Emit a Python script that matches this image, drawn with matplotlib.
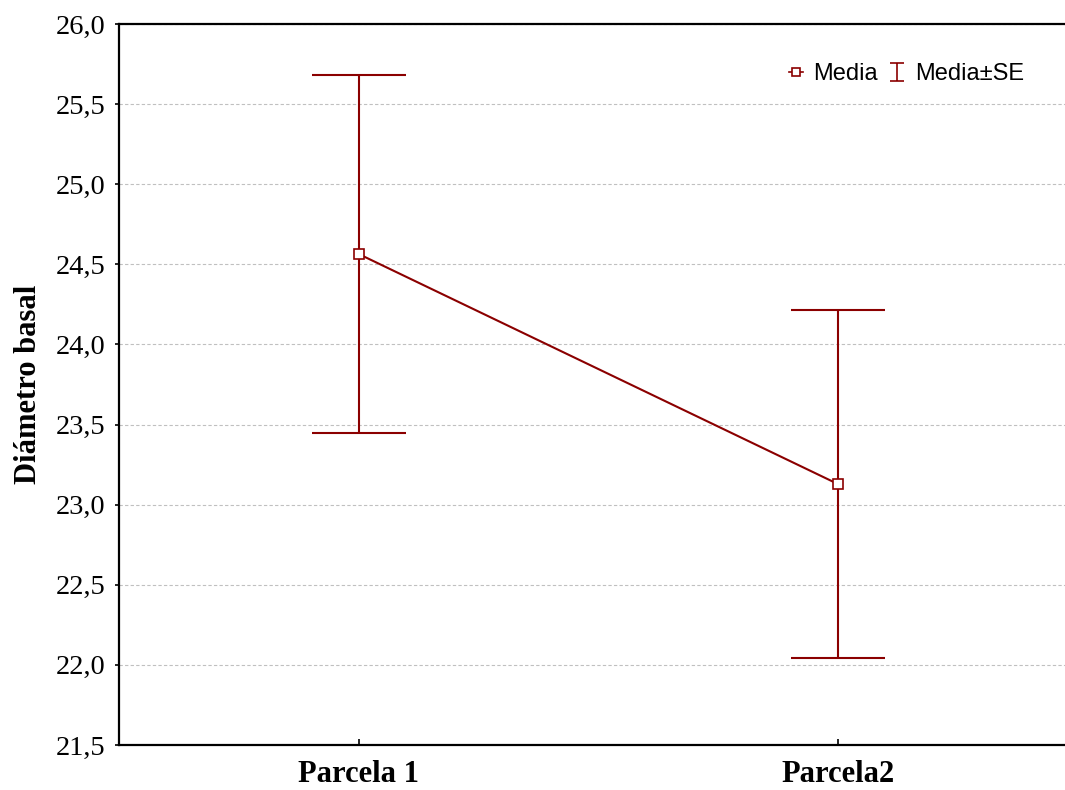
import matplotlib
matplotlib.use("Agg")
import matplotlib.pyplot as plt
from matplotlib.lines import Line2D
from matplotlib.path import Path

categories = ["Parcela 1", "Parcela2"]
means = [24.565, 23.13]
se = [1.115, 1.085]
yticks = [21.5, 22.0, 22.5, 23.0, 23.5, 24.0, 24.5, 25.0, 25.5, 26.0]
ytick_labels = ["21,5", "22,0", "22,5", "23,0", "23,5", "24,0", "24,5", "25,0", "25,5", "26,0"]

color = "#8b0000"
W, H = 1065, 790
fig = plt.figure(figsize=(W / 100, H / 100), dpi=100)
ax = fig.add_axes([119 / W, 1 - 745 / H, 958 / W, (745 - 24) / H])

x = list(range(len(categories)))
ax.plot(x, means, color=color, lw=1.5, zorder=3)
eb = ax.errorbar(x, means, yerr=se, fmt="none", ecolor=color, elinewidth=1.5,
                 capsize=34, capthick=1.5, zorder=2)
ax.plot(x, means, ls="none", marker="s", markersize=7.5, markerfacecolor="white",
        markeredgecolor=color, markeredgewidth=1.2, zorder=4)

ax.set_xlim(-0.5, 1.5)
ax.set_ylim(21.5, 26.0)
ax.set_yticks(yticks)
ax.set_yticklabels(ytick_labels, fontfamily="Liberation Serif", fontsize=20.5)
ax.set_xticks(x)
ax.set_xticklabels(categories, fontfamily="Liberation Serif", fontsize=22, fontweight="bold")
ax.tick_params(axis="y", direction="out", length=3, width=1.2, pad=7)
ax.tick_params(axis="x", direction="in", length=4, width=1.2, pad=11)
ax.grid(axis="y", color="#c0c0c0", ls=(0, (3, 2)), lw=0.8)
ax.set_axisbelow(True)
for s in ["left", "bottom", "top"]:
    ax.spines[s].set_linewidth(1.6)
ax.spines["right"].set_visible(False)

ax.set_ylabel("Diámetro basal", fontfamily="Liberation Serif", fontsize=22,
              fontweight="bold", labelpad=9)

# legend proxies
ibar = Path([(-0.38, -0.5), (0.38, -0.5), (0, -0.5), (0, 0.5), (-0.38, 0.5), (0.38, 0.5)],
            [Path.MOVETO, Path.LINETO, Path.MOVETO, Path.LINETO, Path.MOVETO, Path.LINETO])
h1 = Line2D([], [], ls="-", lw=1.2, color=color, marker="s", markersize=6,
            markerfacecolor="white", markeredgecolor=color, markeredgewidth=1.2)
h2 = Line2D([], [], ls="none", marker=ibar, markersize=13, markerfacecolor="none",
            markeredgecolor=color, markeredgewidth=1.2)
leg = fig.legend([h1, h2], ["Media", "Media\u00b1SE"], loc="center left",
                 bbox_to_anchor=(777 / W, 1 - 74 / H), ncol=2, frameon=False,
                 prop={"family": "Liberation Sans", "size": 17},
                 handlelength=0.6, handletextpad=0.45, columnspacing=0.5, borderpad=0)

fig.savefig("out.png", dpi=100)
